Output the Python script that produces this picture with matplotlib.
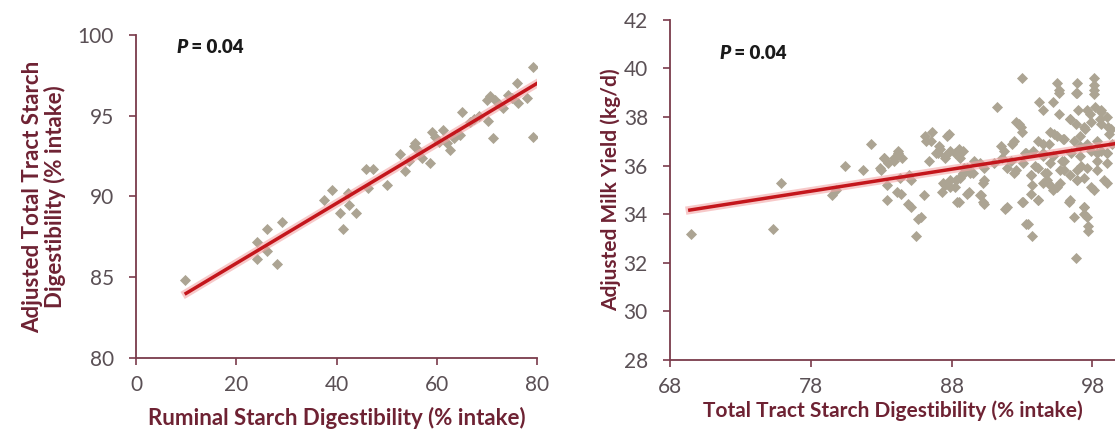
import matplotlib.pyplot as plt

plt.rcParams['font.family'] = ['Lato', 'DejaVu Sans']

# left panel: ruminal vs total tract starch digestibility
rum_x = [9.8, 24.2, 24.1, 26.2, 26.1, 28.1, 29.2, 37.5, 39.2, 40.7, 41.2, 42.2,
         42.5, 43.9, 45.8, 47.2, 46.2, 50.0, 52.7, 53.7, 55.4, 55.7, 57.0, 58.7,
         59.0, 59.7, 61.3, 62.7, 62.0, 65.0, 64.7, 66.7, 70.0, 70.7, 71.7, 70.3,
         71.3, 73.3, 74.3, 76.0, 76.3, 78.0, 79.3, 79.2, 68.5, 67.5, 63.5, 56.5,
         54.5, 60.5, 72.5, 75.0]
ttsd_y = [84.8, 87.2, 86.1, 88.0, 86.6, 85.8, 88.4, 89.8, 90.4, 89.0, 88.0, 90.2,
          89.5, 89.0, 91.7, 91.7, 90.5, 90.7, 92.6, 91.6, 93.1, 93.3, 92.4, 92.1,
          94.0, 93.7, 94.1, 92.9, 93.3, 95.2, 93.8, 94.6, 96.0, 96.2, 96.0, 94.7,
          93.6, 95.5, 96.3, 97.0, 95.8, 96.1, 98.0, 93.7, 95.0, 94.8, 93.6, 92.8,
          92.2, 93.4, 95.7, 96.1]
left_fit_x = [10, 80]
left_fit_y = [84.0, 97.0]

# right panel: total tract starch digestibility vs milk yield
tt_x = [69.5, 75.3, 75.9, 79.5, 79.8, 80.4, 81.7, 82.3, 82.9, 83.2, 83.4, 83.4,
        83.9, 84.1, 84.2, 84.3, 84.9, 85.0, 85.5, 85.6, 86.0, 86.2, 86.6, 86.4,
        86.9, 87.1, 87.5, 87.7, 87.5, 87.9, 88.2, 88.5, 88.2, 88.6, 88.7, 88.9,
        89.2, 89.5, 90.0, 90.1, 90.2, 90.2, 91.2, 91.5, 91.6, 91.8, 91.9, 92.3,
        92.4, 92.8, 93.0, 93.0, 93.0, 93.2, 93.4, 93.6, 93.7, 93.7, 93.9, 94.1,
        94.2, 94.5, 94.6, 94.9, 95.0, 95.2, 95.3, 95.5, 95.5, 95.6, 95.6, 95.8,
        95.9, 96.0, 96.3, 96.4, 96.7, 96.8, 96.8, 96.9, 96.9, 97.0, 97.1, 97.2,
        97.4, 97.5, 97.6, 97.7, 97.8, 97.9, 98.1, 98.1, 98.2, 98.3, 98.5, 98.6,
        98.8, 99.0, 99.1, 99.2,
        95.6, 96.9, 98.1, 98.1, 94.5, 97.6, 98.6, 99.0, 92.6, 92.9, 96.4, 96.8,
        97.4, 97.9, 98.6, 99.3, 95.0, 95.5, 96.0, 94.1, 94.5, 96.7, 97.1, 97.6,
        98.3, 99.4, 92.4, 91.7, 88.8, 93.3, 93.8, 94.5, 95.2, 96.0, 96.5, 97.1,
        97.9, 98.6, 99.0, 89.6, 90.3, 91.0, 92.2, 92.6, 93.1, 93.6, 94.1, 94.8,
        95.0, 95.7, 96.4, 96.9, 97.6, 98.3, 98.3, 99.0, 89.3, 90.3, 89.1, 90.0,
        90.3, 91.9, 93.1, 93.6, 94.1, 94.5, 94.8, 95.2, 95.7, 96.4, 96.9, 97.4,
        97.4, 98.1, 99.0, 93.3, 97.7, 97.4, 83.2, 83.9, 84.2, 84.5, 83.5, 83.0,
        85.1, 85.1, 85.8, 86.1, 86.5, 87.8, 87.2, 87.0, 87.5, 87.9, 88.5, 87.4,
        87.9, 88.3, 88.6, 88.8, 89.1, 88.4, 87.3, 84.4]
milk_y = [33.2, 33.4, 35.3, 34.8, 35.0, 36.0, 35.8, 36.9, 35.9, 36.3, 34.6, 35.2,
          36.3, 34.9, 36.6, 35.5, 34.4, 35.6, 33.1, 33.8, 34.8, 37.0, 37.4, 36.2,
          36.5, 36.8, 36.4, 37.2, 35.2, 35.4, 35.1, 34.5, 36.5, 36.3, 35.6, 35.9,
          34.9, 35.7, 36.1, 34.8, 34.5, 35.3, 38.4, 36.8, 36.3, 34.2, 35.9, 36.9,
          35.7, 37.7, 37.4, 39.6, 34.5, 36.5, 33.6, 35.6, 35.2, 33.1, 36.0, 34.6,
          38.6, 36.4, 35.7, 36.9, 35.2, 38.6, 37.3, 35.1, 39.4, 39.1, 38.1, 36.2,
          37.1, 35.8, 34.5, 37.9, 33.9, 32.2, 39.0, 39.4, 35.4, 38.3, 36.8, 36.0,
          34.3, 37.5, 33.9, 33.3, 38.1, 35.1, 39.6, 39.1, 38.4, 36.5, 37.9, 38.2,
          35.4, 36.5, 37.6, 37.3,
          39.0, 39.0, 39.3, 38.96, 38.3, 38.3, 38.3, 38.0, 37.8, 37.6, 37.9, 37.7,
          37.6, 37.8, 37.7, 37.5, 37.4, 37.2, 37.1, 37.0, 36.9, 37.0, 37.2, 36.9,
          37.0, 36.9, 37.0, 36.6, 36.6, 36.5, 36.6, 36.5, 36.4, 36.2, 36.5, 36.4,
          36.6, 36.6, 36.5, 36.2, 35.9, 36.1, 36.2, 35.8, 36.1, 35.6, 35.9, 35.7,
          36.1, 35.8, 35.6, 35.8, 35.9, 36.2, 35.8, 36.1, 35.7, 35.4, 34.85, 34.8,
          34.4, 34.3, 34.5, 34.85, 34.6, 35.3, 35.4, 35.0, 35.3, 34.6, 35.4, 35.5,
          34.3, 35.0, 35.3, 33.6, 33.5, 34.0, 36.3, 36.2, 36.5, 36.3, 36.1, 35.8,
          35.4, 34.3, 33.9, 37.2, 37.0, 37.3, 36.7, 36.5, 36.3, 36.6, 36.7, 35.3,
          35.1, 35.4, 35.5, 35.7, 35.9, 34.5, 34.9, 34.85]
right_fit_x = [69.4, 99.6]
right_fit_y = [34.17, 36.9]

spine_col = '#7a3b4b'
label_col = '#6e2233'
tick_col = '#5a5055'
dot_col = '#aca493'

fig = plt.figure(figsize=(11.15, 4.37), dpi=100)
ax1 = fig.add_axes([0.122, 0.181, 0.3596, 0.739])
ax2 = fig.add_axes([0.601, 0.176, 0.399, 0.779])


def style(ax):
    for s in ['top', 'right']:
        ax.spines[s].set_visible(False)
    for s in ['left', 'bottom']:
        ax.spines[s].set_color(spine_col)
        ax.spines[s].set_linewidth(1.3)
    ax.tick_params(colors=spine_col, labelcolor=tick_col, labelsize=15,
                   length=5, width=1.2)
    ax.tick_params(axis='y', pad=11)
    ax.tick_params(axis='x', pad=7)


def pvalue(ax, x, y):
    t = ax.text(x, y, 'P', transform=ax.transAxes, fontsize=13.5,
                fontweight='heavy', style='italic', color='#1a1a1a', va='center')
    ax.annotate(' = 0.04', xy=(1, 0.5), xycoords=t, fontsize=13.5,
                fontweight='heavy', color='#1a1a1a', va='center')


ax1.scatter(rum_x, ttsd_y, marker='D', s=32, color=dot_col, zorder=2, linewidths=0)
ax1.plot(left_fit_x, left_fit_y, color='#f2a5a5', lw=6, alpha=0.6, zorder=3)
ax1.plot(left_fit_x, left_fit_y, color='#c4161c', lw=2.5, zorder=4)
ax1.set_xlim(0, 80)
ax1.set_ylim(80, 100)
ax1.set_xticks([0, 20, 40, 60, 80])
ax1.set_yticks([80, 85, 90, 95, 100])
ax1.set_xlabel('Ruminal Starch Digestibility (% intake)', fontsize=16,
               fontweight='bold', color=label_col, labelpad=9)
ax1.set_ylabel('Adjusted Total Tract Starch\nDigestibility (% intake)', fontsize=16,
               fontweight='bold', color=label_col, labelpad=8, linespacing=1.05)
style(ax1)
pvalue(ax1, 0.1, 0.96)

ax2.scatter(tt_x, milk_y, marker='D', s=32, color=dot_col, zorder=2, linewidths=0)
ax2.plot(right_fit_x, right_fit_y, color='#f2a5a5', lw=6, alpha=0.6, zorder=3)
ax2.plot(right_fit_x, right_fit_y, color='#c4161c', lw=2.5, zorder=4)
ax2.set_xlim(68, 99.6)
ax2.set_ylim(28, 42)
ax2.set_xticks([68, 78, 88, 98])
ax2.set_yticks(range(28, 43, 2))
ax2.set_xlabel('Total Tract Starch Digestibility (% intake)', fontsize=15,
               fontweight='bold', color=label_col, labelpad=3)
ax2.set_ylabel('Adjusted Milk Yield (kg/d)', fontsize=15,
               fontweight='bold', color=label_col, labelpad=2)
style(ax2)
pvalue(ax2, 0.11, 0.9)

fig.savefig('out.png', dpi=100)
